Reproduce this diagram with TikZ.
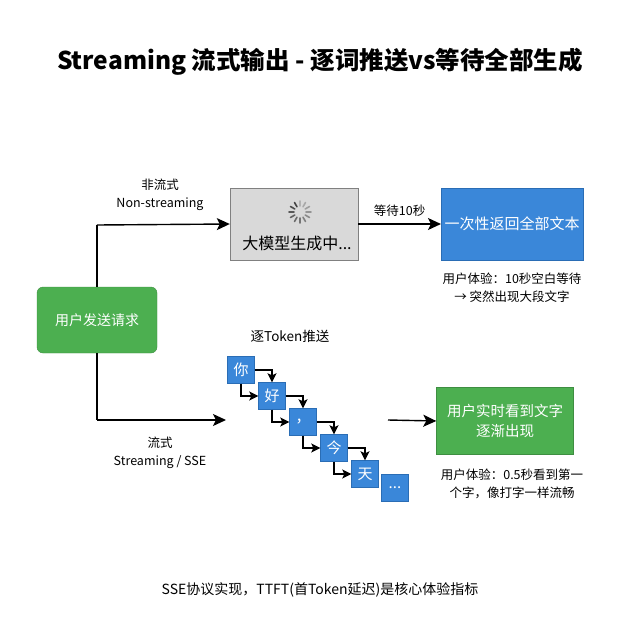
\documentclass[tikz,border=0pt]{standalone}
\usepackage{fontspec}
\setmainfont{Noto Sans CJK SC}
\usetikzlibrary{arrows.meta}
\definecolor{boxgreen}{HTML}{4CAF50}
\definecolor{boxgreenline}{HTML}{3E8E41}
\definecolor{boxblue}{HTML}{3A87D9}
\definecolor{boxblueline}{HTML}{2A6DB5}
\definecolor{boxgray}{HTML}{D9D9D9}
\tikzset{
  conn/.style={-{Stealth[length=13pt,width=12pt,inset=3pt]}, line width=1.4pt},
  small conn/.style={-{Stealth[length=9pt,width=9pt,inset=2pt]}, line width=1.3pt},
  tok/.style={draw=boxblueline, fill=boxblue, text=white, minimum width=27pt, minimum height=27pt, inner sep=0pt, font=\fontsize{15}{15}\selectfont},
  note/.style={font=\fontsize{12.5}{18}\selectfont, align=center}
}
\begin{document}
\begin{tikzpicture}[x=1pt,y=-1pt]
  \useasboundingbox (0,0) rectangle (640,640);
  % title
  \node (title) at (320,62) {\fontsize{24.5}{28}\selectfont\bfseries Streaming 流式输出 - 逐词推送vs等待全部生成};
  % request box
  \node[draw=boxgreenline, fill=boxgreen, rounded corners=6pt, text=white, minimum width=120pt, minimum height=66pt, font=\fontsize{14}{14}\selectfont] (req) at (97,320) {用户发送请求};
  % non-streaming path
  \node[draw=gray, fill=boxgray, minimum width=128pt, minimum height=72pt] (llm) at (294,224) {};
  \node[font=\fontsize{16}{16}\selectfont] (llmtxt) at (297,243) {大模型生成中...};
  \foreach \i in {0,...,11}{
    \pgfmathsetmacro{\g}{30+4*\i}
    \draw[line width=1.6pt, line cap=round, black!\g] ({300+6*cos(90-30*\i)},{212-6*sin(90-30*\i)}) -- ({300+11*cos(90-30*\i)},{212-11*sin(90-30*\i)});
  }
  \node[draw=boxblueline, fill=boxblue, text=white, minimum width=129pt, minimum height=72pt, font=\fontsize{15}{15}\selectfont] (full) at (512,224) {一次性返回全部文本};
  \coordinate (up) at (97,225);
  \draw[line width=1.4pt] (req.north) -- (up);
  \draw[conn] (up) -- (llm.west);
  \draw[conn] (llm.east) -- node[above=3pt, font=\fontsize{12.5}{12.5}\selectfont] {等待10秒} (full.west);
  \node[note] (nsl) at (160,195) {非流式\\Non-streaming};
  \node[note] (fullnote) at (512,288) {用户体验：10秒空白等待\\→ 突然出现大段文字};
  % streaming path
  \coordinate (down) at (97,420);
  \draw[line width=1.4pt] (req.south) -- (down);
  \draw[conn] (down) -- (226,420);
  \node[note] (sl) at (160,453) {流式\\Streaming / SSE};
  \node[font=\fontsize{13.5}{13.5}\selectfont] (toklab) at (290,336) {逐Token推送};
  \node[tok] (t1) at (241,370) {你};
  \node[tok] (t2) at (272,396) {好};
  \node[tok] (t3) at (303,422) {，};
  \node[tok] (t4) at (334,448) {今};
  \node[tok] (t5) at (365,474) {天};
  \node[tok] (t6) at (395,488) {...};
  \foreach \a/\b in {t1/t2,t2/t3,t3/t4,t4/t5}{
    \draw[small conn] (\a.east) -| (\b.north);
    \draw[small conn] (\a.south) |- (\b.west);
  }
  \node[draw=boxgreenline, fill=boxgreen, text=white, minimum width=137pt, minimum height=67pt, align=center, font=\fontsize{14.5}{20}\selectfont] (live) at (505,421) {用户实时看到文字\\逐渐出现};
  \coordinate (mid) at (388,420);
  \draw[conn] (mid) -- (live.west);
  \node[note] (livenote) at (512,484) {用户体验：0.5秒看到第一\\个字，像打字一样流畅};
  % footer
  \node[font=\fontsize{14}{14}\selectfont] (foot) at (320,590) {SSE协议实现，TTFT(首Token延迟)是核心体验指标};
\end{tikzpicture}
\end{document}
